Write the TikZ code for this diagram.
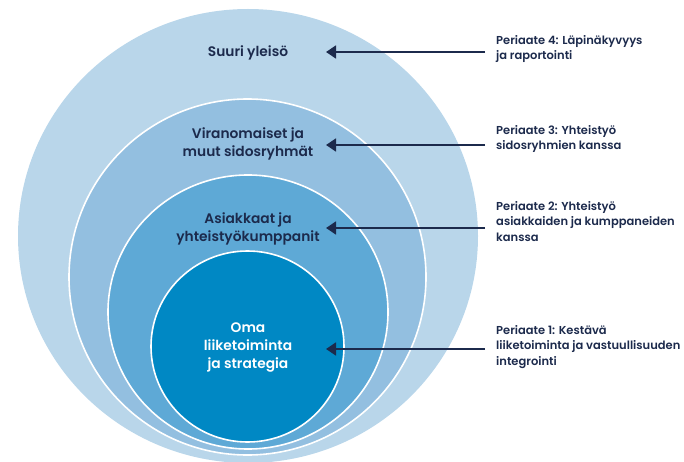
\documentclass[tikz,border=0pt]{standalone}
\usepackage{fontspec}
\setmainfont{Poppins}[BoldFont={Poppins SemiBold}]
\usetikzlibrary{arrows.meta}
\definecolor{cA}{HTML}{B9D6EA}
\definecolor{cB}{HTML}{93BFE0}
\definecolor{cC}{HTML}{5EA9D6}
\definecolor{cD}{HTML}{0088C4}
\definecolor{navy}{HTML}{1C2A4C}
\tikzset{
  ring/.style={draw=white,line width=1.6pt},
  ctext/.style={font=\fontsize{13.8}{18.3}\selectfont\bfseries,text=navy,align=center,inner sep=0pt},
  ptext/.style={font=\fontsize{11.5}{15.5}\selectfont\bfseries,text=navy,align=left,anchor=north west,inner sep=0pt},
  arr/.style={draw=navy,line width=1.5pt,-{Triangle[length=10pt,width=13pt]}}
}
\begin{document}
\begin{tikzpicture}[x=1pt,y=-1pt]
\useasboundingbox (0,0) rectangle (684,462);
\fill[cA] (248,236) ellipse [x radius=230, y radius=227];
\filldraw[fill=cB,ring] (247.5,277) ellipse [x radius=178.5, y radius=178];
\filldraw[fill=cC,ring] (248,312) ellipse [x radius=140, y radius=137];
\filldraw[fill=cD,ring] (247.5,346.5) ellipse [x radius=96.5, y radius=95.5];

\node[ctext] (n4) at (248,53) {Suuri yleisö};
\node[ctext] (n3) at (248,144) {Viranomaiset ja\\muut sidosryhmät};
\node[ctext] (n2) at (248,229) {Asiakkaat ja\\yhteistyökumppanit};
\node[ctext,text=white] (n1) at (248,347.5) {Oma\\liiketoiminta\\ja strategia};

\node[ptext] (p4) at (496,35) {Periaate 4: Läpinäkyvyys\\ja raportointi};
\node[ptext] (p3) at (496,125) {Periaate 3: Yhteistyö\\sidosryhmien kanssa};
\node[ptext] (p2) at (496,201) {Periaate 2: Yhteistyö\\asiakkaiden ja kumppaneiden\\kanssa};
\node[ptext] (p1) at (496,325) {Periaate 1: Kestävä\\liiketoiminta ja vastuullisuuden\\integrointi};

\coordinate (t4) at (485,52);  \coordinate (h4) at (326,52);
\coordinate (t3) at (485,145); \coordinate (h3) at (326,145);
\coordinate (t2) at (485,228); \coordinate (h2) at (326,228);
\coordinate (t1) at (485,349); \coordinate (h1) at (326,349);
\draw[arr] (t4) -- (h4);
\draw[arr] (t3) -- (h3);
\draw[arr] (t2) -- (h2);
\draw[arr] (t1) -- (h1);
\end{tikzpicture}
\end{document}
